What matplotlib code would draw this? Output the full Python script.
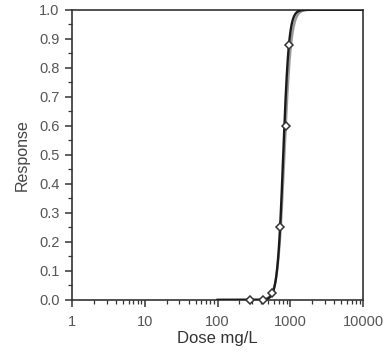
import numpy as np
import matplotlib.pyplot as plt
from matplotlib.ticker import MultipleLocator, LogLocator, FixedFormatter, FixedLocator

plt.rcParams['font.family'] = ['Liberation Sans', 'DejaVu Sans']

# observed responses
dose = [280, 420, 560, 723, 866, 957]
response = [0.0, 0.0, 0.025, 0.25, 0.60, 0.88]

# log-logistic fit parameters (fit and upper band)
ec50_fit, slope_fit = 800, 11.0
ec50_band, slope_band = 830, 9.5

x_ticks = [1, 10, 100, 1000, 10000]
x_labels = ['1', '10', '100', '1000', '10000']


def loglogistic(x, ec50, b):
    return 1.0 / (1.0 + (ec50 / x) ** b)


fig = plt.figure(figsize=(3.85, 3.6), dpi=100)
ax = fig.add_axes([0.187, 0.167, 0.756, 0.806])

xs = np.logspace(2, 4, 600)
ax.plot(xs, loglogistic(xs, ec50_band, slope_band), color='#9a9a9a', lw=1.7, zorder=2)
ax.plot(xs, loglogistic(xs, ec50_fit, slope_fit), color='#1a1a1a', lw=1.7, zorder=3)
ax.plot(dose, response, ls='none', marker='D', ms=4.5, mfc='white',
        mec='#333333', mew=1.1, zorder=4, clip_on=False)

ax.set_xscale('log')
ax.set_xlim(1, 10000)
ax.set_ylim(0, 1.0)
ax.xaxis.set_major_locator(FixedLocator(x_ticks))
ax.xaxis.set_major_formatter(FixedFormatter(x_labels))
ax.xaxis.set_minor_locator(LogLocator(base=10, subs=np.arange(2, 10)))
ax.xaxis.set_minor_formatter(plt.NullFormatter())
ax.yaxis.set_major_locator(MultipleLocator(0.1))
ax.yaxis.set_minor_locator(MultipleLocator(0.05))
ax.yaxis.set_major_formatter(plt.FuncFormatter(lambda v, p: f'{v:.1f}'))

ax.tick_params(which='major', direction='out', length=5, width=1.1, colors='#333333',
               labelsize=10.5, labelcolor='#555555', pad=4)
ax.tick_params(axis='x', which='major', pad=6)
ax.tick_params(which='minor', direction='out', length=3, width=0.9, colors='#333333')
for s in ax.spines.values():
    s.set_color('#333333')
    s.set_linewidth(1.2)

ax.set_xlabel('Dose mg/L', fontsize=12, color='#333333', labelpad=1)
ax.set_ylabel('Response', fontsize=11.5, color='#444444', labelpad=7)

fig.savefig('out.png', dpi=100, facecolor='white')
